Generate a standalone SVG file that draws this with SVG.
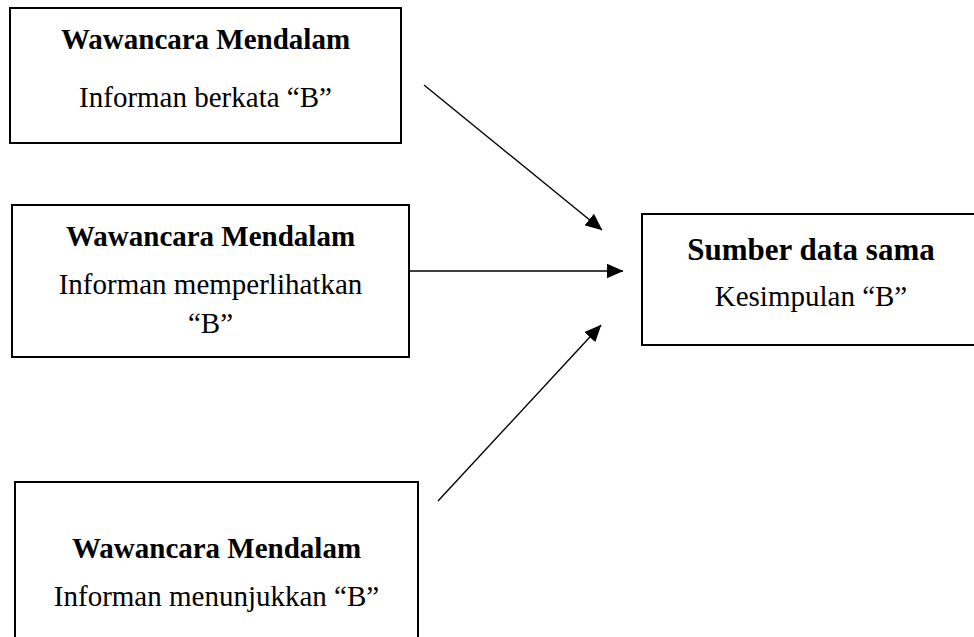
<svg xmlns="http://www.w3.org/2000/svg" width="974" height="637" viewBox="0 0 974 637">
<style>
.box{fill:#fff;stroke:#000;stroke-width:2}
.t{font-family:"Liberation Serif","Times New Roman",serif;fill:#000;text-anchor:middle}
.b{font-weight:bold;font-size:29px}
.r{font-size:29px}
.conn{stroke:#000;stroke-width:1.4;fill:none;marker-end:url(#ah)}
</style>
<defs>
<marker id="ah" markerWidth="17" markerHeight="15" refX="16.5" refY="7.5" orient="auto" markerUnits="userSpaceOnUse" viewBox="0 0 17 15">
<path d="M0,0 L17,7.5 L0,15 Z" fill="#000"/>
</marker>
</defs>
<rect width="974" height="637" fill="#fff"/>
<g id="n1">
<rect class="box" x="10" y="8" width="391" height="135"/>
<text class="t b" x="205.5" y="49">Wawancara Mendalam</text>
<text class="t r" x="205.5" y="107">Informan berkata “B”</text>
</g>
<g id="n2">
<rect class="box" x="12" y="205" width="397" height="152"/>
<text class="t b" x="210.5" y="246">Wawancara Mendalam</text>
<text class="t r" x="210.5" y="294">Informan memperlihatkan</text>
<text class="t r" x="210.5" y="333">“B”</text>
</g>
<g id="n3">
<rect class="box" x="15" y="482" width="403" height="170"/>
<text class="t b" x="216.5" y="558">Wawancara Mendalam</text>
<text class="t r" x="216.5" y="606">Informan menunjukkan “B”</text>
</g>
<g id="n4">
<rect class="box" x="642" y="214" width="340" height="131"/>
<text class="t b" x="811" y="260" style="font-size:31px">Sumber data sama</text>
<text class="t r" x="811" y="306">Kesimpulan “B”</text>
</g>
<g id="connectors">
<line class="conn" x1="424" y1="85" x2="602" y2="230"/>
<line class="conn" x1="409" y1="271" x2="623" y2="271"/>
<line class="conn" x1="438" y1="501" x2="601" y2="325"/>
</g>
</svg>
